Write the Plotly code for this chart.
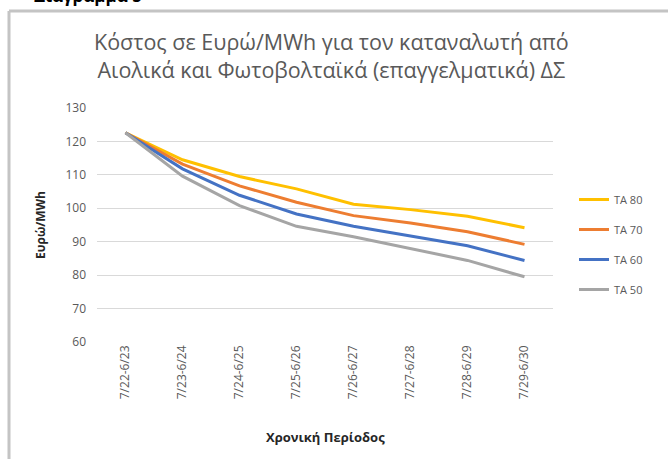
import plotly.graph_objects as go

# data
periods = ["7/22-6/23", "7/23-6/24", "7/24-6/25", "7/25-6/26",
           "7/26-6/27", "7/27-6/28", "7/28-6/29", "7/29-6/30"]
ta80 = [122.6, 114.5, 109.5, 105.8, 101.2, 99.6, 97.6, 94.2]
ta70 = [122.6, 113.2, 106.7, 101.8, 97.8, 95.6, 93.0, 89.2]
ta60 = [122.6, 111.8, 103.9, 98.3, 94.6, 91.8, 88.8, 84.4]
ta50 = [122.6, 109.6, 100.8, 94.6, 91.5, 88.0, 84.4, 79.5]
series_names = ["TA 80", "TA 70", "TA 60", "TA 50"]
colors = ["#FFC000", "#ED7D31", "#4472C4", "#A5A5A5"]

W, H = 668, 459
L, R, T, B = 97, 115, 108, 117
pw, ph = W - L - R, H - T - B


def px(x):
    return (x - L) / pw


def py(y):
    return (H - B - y) / ph


fig = go.Figure()
for i, (name, vals) in enumerate(zip(series_names, [ta80, ta70, ta60, ta50])):
    fig.add_trace(go.Scatter(
        x=periods, y=vals, mode="lines", name=name,
        line=dict(color=colors[i], width=3),
        legendgroup=name,
    ))

gray = "#595959"
fig.update_layout(
    width=W, height=H,
    margin=dict(l=L, r=R, t=T, b=B),
    paper_bgcolor="white", plot_bgcolor="white",
    font=dict(family="Open Sans", color=gray),
    showlegend=True,
    legend=dict(
        x=px(574), y=py(185), xanchor="left", yanchor="top",
        font=dict(size=11, color=gray),
        itemwidth=30, tracegroupgap=11,
        bgcolor="rgba(0,0,0,0)",
    ),
    annotations=[
        dict(text="Κόστος σε Ευρώ/MWh για τον καταναλωτή από<br>Αιολικά και Φωτοβολταϊκά (επαγγελματικά) ΔΣ",
             xref="paper", yref="paper", x=px(331), y=py(56),
             xanchor="center", yanchor="middle", showarrow=False,
             font=dict(size=21.5, color=gray)),
        dict(text="<b>Χρονική Περίοδος</b>", xref="paper", yref="paper",
             x=0.5, y=py(437), xanchor="center", yanchor="middle",
             showarrow=False, font=dict(size=13, color="#262626")),
        dict(text="<b>Ευρώ/MWh</b>", xref="paper", yref="paper",
             x=px(40), y=0.5, xanchor="center", yanchor="middle",
             textangle=-90, showarrow=False,
             font=dict(size=12, color="#262626")),
        dict(text="<b>Διάγραμμα 5</b>", xref="paper", yref="paper",
             x=px(32), y=py(9), xanchor="left", yanchor="bottom",
             showarrow=False, font=dict(size=17, color="black")),
    ],
    shapes=[
        dict(type="line", xref="paper", yref="paper",
             x0=px(9), x1=px(W + 5), y0=py(11), y1=py(11),
             line=dict(color="#C4C4C4", width=3)),
        dict(type="line", xref="paper", yref="paper",
             x0=px(9), x1=px(9), y0=py(11), y1=py(H + 5),
             line=dict(color="#C4C4C4", width=3)),
    ],
)

fig.update_xaxes(
    type="category", range=[-0.5, len(periods) - 0.5],
    tickangle=-90, showgrid=False, automargin=False,
    tickfont=dict(size=12, color=gray), ticks="",
    showline=False, zeroline=False,
)
fig.update_yaxes(
    range=[60, 130], dtick=10, tick0=60, automargin=False,
    showgrid=True, gridcolor="#D9D9D9", gridwidth=1,
    tickfont=dict(size=12, color=gray), ticks="",
    ticklabelstandoff=10, zeroline=False, showline=False,
)

# the page's default body margin would push the chart 8px off
fig.write_html("out.html",
               config={"displayModeBar": False},
               post_script="document.body.style.margin='0';document.body.style.overflow='hidden';")
